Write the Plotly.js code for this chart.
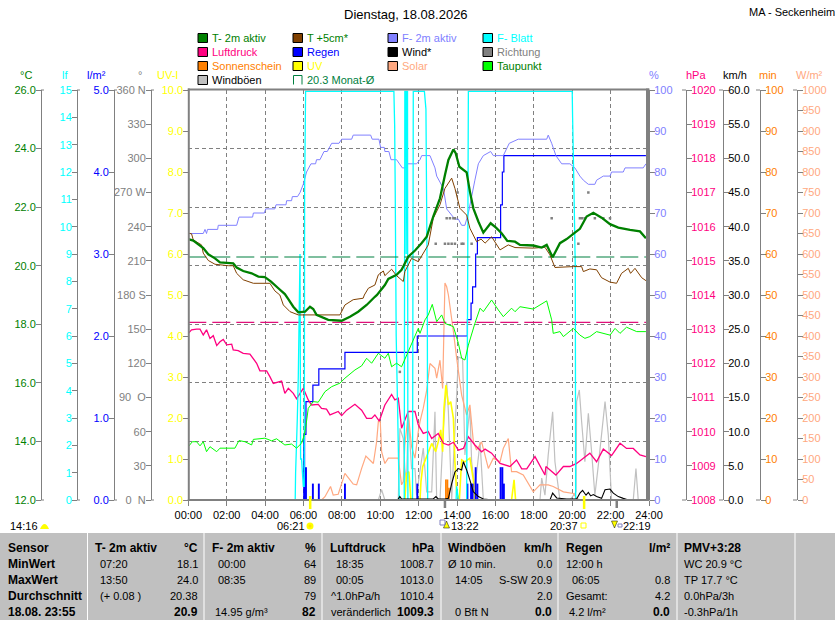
<!DOCTYPE html>
<html><head><meta charset="utf-8">
<script src="https://cdn.plot.ly/plotly-3.0.1.min.js"></script>
<style>html,body{margin:0;padding:0;background:#fff}#c{width:835px;height:620px}</style>
</head><body><div id="c"></div>
<script>
// ---------- Data (hours of day / values in each axis' own unit) ----------
var tT2m=[0,.26,.52,.78,1.04,1.39,1.65,2.34,2.52,2.86,3.30,3.65,3.99,4.31,4.69,5.03,5.21,5.47,5.73,6.08,6.34,6.51,6.68,7.29,7.99,8.42,8.85,9.29,9.72,9.83,10.24,10.42,10.85,11.11,11.46,11.81,12.15,12.42,12.76,13.11,13.37,13.55,13.81,13.93,14.12,14.50,14.67,14.85,15.11,15.37,15.75,16.03,16.32,16.62,17.02,17.28,17.97,18.41,18.67,18.98,19.36,19.71,20.14,20.40,20.75,21.10,21.53,21.97,22.40,23.01,23.53,23.84];
var vT2m=[20.91,20.86,20.73,20.60,20.39,20.25,20.11,20.08,19.94,19.82,19.74,19.63,19.61,19.46,19.23,19.03,18.86,18.60,18.41,18.43,18.60,18.52,18.32,18.15,18.12,18.26,18.43,18.66,18.94,19.0,19.34,19.55,19.69,19.86,20.31,20.52,20.77,20.99,21.68,22.30,23.10,23.61,23.97,23.84,23.38,23.19,22.53,21.96,21.51,21.13,21.45,21.30,21.11,20.85,20.82,20.71,20.69,20.62,20.71,20.29,20.77,20.91,21.13,21.26,21.68,21.81,21.64,21.42,21.30,21.22,21.17,20.94];
var tT5=[0,.17,.26,.69,.78,1.04,1.39,2.08,2.34,2.52,2.86,3.39,4.25,4.51,4.77,4.95,5.30,5.73,7.90,8.16,8.59,9.11,9.17,9.38,9.72,9.90,10.16,10.24,10.59,10.85,11.20,11.28,11.63,11.98,12.50,12.76,13.11,13.37,13.72,13.89,14.15,14.50,14.67,15.02,15.25,15.46,15.80,16.24,16.67,17.02,17.97,18.58,18.84,19.10,20.06,20.49,20.58,20.92,21.27,21.53,21.97,22.31,22.57,22.92,23.04,23.27,23.62,23.84];
var vT5=[21.11,21.09,20.88,20.71,20.43,20.18,20.05,20.0,20.0,19.74,19.52,19.40,19.40,19.14,19.0,18.66,18.43,18.32,18.32,18.66,18.84,18.89,19.0,19.23,19.34,19.69,19.82,19.66,19.88,19.66,19.46,19.80,20.25,20.14,20.71,21.62,22.08,22.64,22.99,22.64,21.96,21.73,21.28,20.82,20.91,20.77,20.99,20.54,20.71,20.62,20.60,20.63,20.37,19.94,19.97,19.97,19.80,19.89,19.86,19.59,19.44,19.40,19.74,19.91,19.74,19.91,19.59,19.49];
var tHum=[0,.78,.87,.95,1.0,1.53,1.56,2.52,2.64,3.35,3.39,3.96,4.03,4.51,4.57,5.09,5.12,5.38,5.42,5.69,5.82,5.99,6.16,6.39,6.63,6.68,6.86,7.07,7.24,7.47,7.85,7.99,8.51,8.59,9.5,9.58,9.93,10.02,10.21,10.24,10.45,10.56,10.85,11.15,11.32,11.42,11.89,12.07,12.16,12.59,12.85,12.94,13.29,13.46,13.63,13.89,14.07,14.24,14.41,14.59,14.76,14.93,15.11,15.37,15.75,15.89,16.41,16.72,17.19,18.67,18.75,18.93,19.15,19.45,19.88,20.14,20.40,20.58,20.84,21.18,21.27,21.62,21.97,22.05,22.66,22.75,23.70,23.84];
var vHum=[65,65,66,65,66,66,67,67,69,69,70,70,71,71,72,72,73,73,74,74,75,77,80,82,82,83,83,85,85,87,87,88,88,89,89,88,88,86,86,85,85,83,83,81,81,82,82,83,84,84,81,79,76,71,70,68.5,68.5,67,67,70,74,78,82,84,85,84,84,87,88,88,89,87,84,82,82,81,79,78,77,77,78,79,79,80,80,81,81,82];
var tDew=[0,.21,.43,.61,.78,.95,1.13,1.48,1.65,2.43,2.64,2.95,3.30,3.39,3.99,4.34,4.60,5.03,5.38,5.64,5.90,6.04,6.11,6.25,6.51,6.77,7.12,7.47,7.90,8.16,8.68,9.03,9.29,9.55,9.90,10.24,10.42,10.59,10.85,11.11,11.46,11.98,12.07,12.33,12.50,12.71,12.94,13.20,13.37,13.81,14.07,14.24,14.41,14.59,14.93,15.2,15.37,15.80,16.15,16.41,16.84,17.02,17.28,17.97,18.67,18.93,19.01,19.36,19.54,20.06,20.40,20.66,20.92,21.27,21.97,22.23,22.49,22.83,23.36,23.84];
var vDew=[13.82,13.99,13.99,13.85,13.99,13.65,13.82,13.65,13.77,13.77,14.03,13.99,13.88,14.07,14.11,14.02,14.09,13.88,13.91,13.77,13.94,14.22,14.45,15.13,15.36,15.34,15.70,15.87,15.99,16.16,16.44,16.58,16.84,16.67,17.01,16.84,17.01,16.55,16.67,16.55,17.07,17.86,17.69,18.15,18.32,18.68,18.09,18.32,18.03,17.92,17.35,16.84,16.78,17.29,18.03,18.55,18.43,18.83,18.49,18.26,18.55,18.43,18.60,18.52,18.80,18.15,17.69,17.75,17.58,17.86,17.63,17.52,17.58,17.75,17.63,17.86,17.69,17.90,17.75,17.75];
var tPres=[0,.17,.43,.61,.78,.95,1.13,1.30,1.48,1.65,1.82,2.0,2.26,2.34,2.60,2.86,3.21,3.56,3.73,4.08,4.25,4.43,4.86,5.03,5.21,5.47,5.64,5.99,6.25,6.42,6.77,6.94,7.20,7.38,7.81,7.99,8.25,8.68,9.03,9.29,9.55,9.72,9.95,10.24,10.59,10.76,10.94,11.11,11.46,11.81,11.98,12.24,12.50,12.68,13.02,13.29,13.55,13.81,14.07,14.33,14.59,14.93,15.28,15.46,15.80,16.24,16.76,17.10,17.37,17.63,18.06,18.58,18.63,19.15,19.54,19.88,20.23,20.58,20.92,21.27,21.62,22.05,22.49,22.83,23.18,23.53,23.84];
var vPres=[1012.88,1012.98,1013.0,1013.0,1012.83,1012.98,1012.73,1012.81,1012.52,1012.63,1012.70,1012.54,1012.56,1012.39,1012.37,1012.29,1012.27,1012.0,1011.78,1011.78,1011.61,1011.41,1011.48,1011.12,1011.27,1011.12,1010.96,1011.27,1010.93,1010.78,1010.80,1010.68,1010.66,1010.49,1010.59,1010.47,1010.63,1010.80,1010.63,1010.39,1010.39,1010.49,1010.31,1010.78,1011.09,1010.93,1010.98,1010.10,1010.59,1010.59,1010.2,1009.95,1010.0,1009.80,1009.95,1009.66,1009.61,1009.69,1009.46,1009.51,1009.85,1009.61,1009.41,1009.49,1009.37,1009.07,1008.98,1009.17,1008.91,1008.91,1009.27,1008.73,1008.98,1008.73,1008.98,1008.98,1009.07,1009.22,1009.37,1009.12,1009.49,1009.30,1009.66,1009.51,1009.51,1009.32,1009.27];
var tRainBar=[6.04,6.13,6.49,6.80,8.16,11.93,14.54,14.73,14.81,14.97,15.06,16.27,16.36,16.44];
var vRainBar=[0.8,0.4,0.2,0.2,0.2,0.2,0.2,0.2,0.2,0.4,0.2,0.4,0.4,0.2];
var tRainSum=[0,6.04,6.13,6.49,6.80,8.16,11.93,14.54,14.73,14.81,14.97,15.06,16.27,16.36,16.44,23.84];
var vRainSum=[0,0.8,1.2,1.4,1.6,1.8,2.0,2.2,2.4,2.6,3.0,3.2,3.6,4.0,4.2,4.2];
var tLeaf=[0,5.57,5.59,5.68,5.73,5.82,5.85,5.90,5.99,6.04,6.06,6.11,10.71,10.75,10.78,10.83,10.90,10.99,11.25,11.28,11.34,11.35,11.39,11.42,11.44,11.68,11.72,12.30,12.38,12.45,12.47,13.95,13.98,14.07,14.50,14.55,14.59,19.93,20.0,20.02,20.09,20.16,20.18,23.84];
var vLeaf=[0,0,1,3,4.5,9,1.5,1.5,0.5,0.5,11.3,14.95,14.95,13.7,11.3,6,3.5,0,0,14.95,14.95,9,14.95,14.95,0,0,14.95,14.95,14.3,7.5,0,0,0.5,0,0,7.5,14.95,14.95,14.95,14,11.4,8.5,0,0];
var tSolar=[0,6.94,7.12,7.41,7.55,7.81,8.16,8.59,8.77,9.03,9.25,9.64,9.81,9.90,10.0,10.07,10.24,10.42,10.68,10.94,11.11,11.20,11.28,11.46,11.63,11.81,11.98,12.07,12.24,12.42,12.59,12.85,12.94,13.11,13.25,13.37,13.46,13.55,13.81,13.98,14.24,14.50,14.67,14.85,15.02,15.28,15.63,15.89,16.24,16.41,16.67,16.84,17.10,17.45,17.97,18.32,18.75,19.01,19.54,20.06,20.23,20.4];
var vSolar=[0,0,8,33,12,14,65,39,37,77,107,89,142,191,191,118,89,102,102,102,37,45,134,211,130,102,167,191,224,268,333,321,297,341,272,529,520,500,411,346,256,207,232,142,122,142,77,102,93,126,150,69,69,61,20,37,37,33,20,16,4,0];
var tGust=[0,9.9,10.07,10.24,10.94,11.02,11.2,11.28,11.37,11.46,11.63,11.81,11.89,12.24,12.42,12.68,12.85,12.94,13.11,13.29,13.46,13.55,13.72,13.81,13.98,14.07,14.29,14.41,14.67,14.76,14.93,15.2,15.37,18.32,18.41,18.58,18.75,18.98,19.1,19.36,19.88,20.2,20.23,20.37,20.49,20.66,20.84,21.01,21.18,21.36,21.71,21.88,22.05,23.18,23.32,23.44,23.84];
var vGust=[0,0,1.5,0,0,10.5,9,4.6,2.7,12.4,4.6,4.6,0.7,7.6,1.2,1.2,12.9,0,0,10.5,17.3,12.9,0,5.6,15.4,20.9,20.7,6.6,13.4,5.6,1.7,8.5,0,0,3.2,0.7,6.6,12.9,5.6,0,0,1.2,14.4,16.1,11.5,5.6,12.7,7.1,0.7,5.1,14.4,9.5,0,0,4.6,0,0];
var tWind=[0,10.9,11.02,11.11,11.55,12.76,12.9,13.02,13.37,13.55,13.72,13.89,14.07,14.24,14.33,14.50,14.67,14.85,15.11,15.37,15.89,18.84,18.98,19.19,19.71,20.23,20.40,20.54,20.72,20.84,20.96,21.10,21.27,21.53,21.71,21.97,22.14,22.40,22.66,22.92,23.84];
var vWind=[0,0,0.5,0.15,0.15,0.15,0.5,0.15,0.15,0.24,2.4,4.1,4.6,4.4,5.6,4.4,2.9,1.2,0.5,0.15,0,0,1,0.3,0.15,0.15,1,1.4,0.7,1.1,0.6,0.8,0.5,0.24,1.5,1.6,1,0.5,0.24,0,0];
var tUV=[0,11.28,11.37,11.49,11.60,12.07,12.12,12.21,12.45,12.68,12.89,13.02,13.15,13.25,13.32,13.42,13.55,13.67,13.81,13.89,13.98,14.12,14.24,14.41,14.67,14.85,14.93,16.84,16.97,17.05,23.84];
var vUV=[0,0,0.65,0.69,0,0,0.45,0.81,1.1,1.38,1.18,1.42,1.71,1.18,2.24,2.8,2.32,2.4,1.99,0.93,0.16,0,0.98,0.93,1.02,0.49,0,0,0.49,0,0];
var tSun=[13.42,13.5,13.58], vSun=[5,5,3];
var tSunBase=[0,24], vSunBase=[0,0];
var tDir=[11.02,12.89,13.37,13.55,13.72,13.89,14.24,14.33,14.76,20.32,13.46,13.63,13.81,13.89,18.93,20.40,20.52,20.66,21.18,21.62,21.97,14.03,20.84];
var vDir=[112.5,225,225,225,225,225,225,225,225,225,247.5,247.5,247.5,247.5,247.5,247.5,247.5,247.5,247.5,247.5,247.5,270,270];
var tSpan=[0,23.84];
var vMonthAvg=[20.3,20.3], vPresRef=[1013.2,1013.2];
var tRiseSet=[6.35,20.62], tMoon=[13.37,22.32];

var xTickVals=[0,2,4,6,8,10,12,14,16,18,20,22,24];
var xTickText=["00:00","02:00","04:00","06:00","08:00","10:00","12:00","14:00","16:00","18:00","20:00","22:00","24:00"];
var dirTickVals=[0,30,60,90,120,150,180,210,240,270,300,330,360];
var dirTickText=["0\u00a0\u00a0N","30","60","90\u00a0\u00a0O","120","150","180 S","210","240","270 W","300","330","360 N"];

var legendEntries=[
 ["T- 2m aktiv","#008000","#008000",0,0],["T +5cm*","#804000","#008000",1,0],["F- 2m aktiv","#8080ff","#8080ff",2,0],["F- Blatt","#00ffff","#00ffff",3,0],
 ["Luftdruck","#ff0080","#ff0080",0,1],["Regen","#0000ff","#0000ff",1,1],["Wind*","#000000","#000000",2,1],["Richtung","#808080","#808080",3,1],
 ["Sonnenschein","#ff8000","#ff8000",0,2],["UV","#ffff00","#ffff00",1,2],["Solar","#ffa880","#ffa880",2,2],["Taupunkt","#00ff00","#008000",3,2],
 ["Windböen","#c0c0c0","#000000",0,3]];
var monthLabel="20.3 Monat-Ø";

var unitLabels=[["°C",20,"#008000"],["lf",62,"#00ffff"],["l/m²",87,"#0000ff"],["°",138,"#808080"],["UV-I",157,"#ffff00"],
 ["%",649,"#8080ff"],["hPa",686,"#ff0080"],["km/h",723,"#000000"],["min",759,"#ff8000"],["W/m²",796,"#ffa880"]];

var panelSeps=[87.5,204,322,441,558,677,795];
var panelRows=[548,564,580,596,612];
// [text, x, row, anchor, bold]
var panelText=[
 ["Sensor",8,0,"l",1],["MinWert",8,1,"l",1],["MaxWert",8,2,"l",1],["Durchschnitt",8,3,"l",1],["18.08. 23:55",8,4,"l",1],
 ["T- 2m aktiv",95,0,"l",1],["°C",198,0,"r",1],["07:20",100,1,"l",0],["18.1",198,1,"r",0],["13:50",100,2,"l",0],["24.0",198,2,"r",0],["(+ 0.08 )",100,3,"l",0],["20.38",198,3,"r",0],["20.9",198,4,"r",1],
 ["F- 2m aktiv",212,0,"l",1],["%",316,0,"r",1],["00:00",218,1,"l",0],["64",316,1,"r",0],["08:35",218,2,"l",0],["89",316,2,"r",0],["79",316,3,"r",0],["14.95 g/m³",215,4,"l",0],["82",316,4,"r",1],
 ["Luftdruck",330,0,"l",1],["hPa",434,0,"r",1],["18:35",336,1,"l",0],["1008.7",434,1,"r",0],["00:05",336,2,"l",0],["1013.0",434,2,"r",0],["^1.0hPa/h",331,3,"l",0],["1010.4",434,3,"r",0],["veränderlich",331,4,"l",0],["1009.3",434,4,"r",1],
 ["Windböen",448,0,"l",1],["km/h",552,0,"r",1],["Ø 10 min.",448,1,"l",0],["0.0",552,1,"r",0],["14:05",455,2,"l",0],["S-SW 20.9",552,2,"r",0],["2.0",552,3,"r",0],["0 Bft N",455,4,"l",0],["0.0",552,4,"r",1],
 ["Regen",566,0,"l",1],["l/m²",670,0,"r",1],["12:00 h",566,1,"l",0],["06:05",572,2,"l",0],["0.8",670,2,"r",0],["Gesamt:",566,3,"l",0],["4.2",670,3,"r",0],["4.2 l/m²",569,4,"l",0],["0.0",670,4,"r",1],
 ["PMV+3:28",684,0,"l",1],["WC 20.9 °C",684,1,"l",0],["TP 17.7 °C",684,2,"l",0],["0.0hPa/3h",684,3,"l",0],["-0.3hPa/1h",684,4,"l",0]];
var astroText=[["14:16",10],["06:21",277],["13:22",451],["20:37",550],["22:19",623]];

// ---------- Layout helpers ----------
var W=835,H=620,FONT='"Liberation Sans",Arial,sans-serif';
var PL=188.3,PR=649,PT=90,PB=500;
function px(x){return x/W} function py(y){return 1-y/H}
var ann=[],shp=[];
function txt(s,x,y,col,size,anchor,bold){ann.push({text:bold?"<b>"+s+"</b>":s,xref:"paper",yref:"paper",x:px(x),y:py(y),
  xanchor:anchor||"left",yanchor:"middle",showarrow:false,align:anchor||"left",font:{family:FONT,size:size||11,color:col||"#000"},borderpad:0,borderwidth:0});}
function rect(x0,y0,x1,y1,fill,line,lw,layer){shp.push({type:"rect",xref:"paper",yref:"paper",x0:px(x0),x1:px(x1),y0:py(y0),y1:py(y1),fillcolor:fill,line:{color:line||fill,width:lw==null?0:lw},layer:layer||"above"});}
function seg(x0,y0,x1,y1,col,w,dash){shp.push({type:"line",xref:"paper",yref:"paper",x0:px(x0),x1:px(x1),y0:py(y0),y1:py(y1),line:{color:col,width:w,dash:dash||"solid"},layer:"above"});}

// ---------- Traces, bottom to top ----------
var common={type:"scatter",mode:"lines",hoverinfo:"skip",showlegend:false,xaxis:"x"};
function ln(name,x,y,ax,col,w,extra){return Object.assign({},common,{name:name,x:x,y:y,yaxis:ax,line:{color:col,width:w,simplify:false}},extra||{});}
var data=[
 ln("Windböen",tGust,vGust,"y","#c0c0c0",1.2),
 ln("Solar",tSolar,vSolar,"y2","#ffa880",1.2),
 ln("UV",tUV,vUV,"y3","#ffff00",1.6),
 {type:"bar",name:"Sonnenschein",x:tSun,y:vSun,yaxis:"y4",xaxis:"x",width:0.09,marker:{color:"#ff8000",line:{width:0}},hoverinfo:"skip",showlegend:false},
 {type:"bar",name:"Regen",x:tRainBar,y:vRainBar,yaxis:"y5",xaxis:"x",width:0.1,marker:{color:"#0000ff",line:{width:0}},hoverinfo:"skip",showlegend:false},
 ln("Regen Summe",tRainSum,vRainSum,"y5","#0000ff",1.2,{line:{color:"#0000ff",width:1.2,shape:"hv"}}),
 ln("Luftdruck",tPres,vPres,"y6","#ff0080",1.3),
 ln("Luftdruck Ref",tSpan,vPresRef,"y6","#ff0080",1.1,{line:{color:"#e0107a",width:1.1,dash:"18px,6px"}}),
 ln("F- 2m aktiv",tHum,vHum,"y7","#8080ff",1),
 ln("F- Blatt",tLeaf,vLeaf,"y8","#00ffff",1.3),
 ln("Wind",tWind,vWind,"y9","#000000",1.1),
 {type:"scatter",mode:"markers",name:"Richtung",x:tDir,y:vDir,yaxis:"y10",xaxis:"x",marker:{color:"#808080",size:2.5,symbol:"square"},hoverinfo:"skip",showlegend:false},
 ln("Monat",tSpan,vMonthAvg,"y11","#008040",1.1,{line:{color:"#008040",width:1.1,dash:"18px,6px"}}),
 ln("Taupunkt",tDew,vDew,"y11","#00ff00",1),
 ln("T +5cm",tT5,vT5,"y11","#804000",1),
 ln("T- 2m aktiv",tT2m,vT2m,"y11","#008000",2.3),
 ln("Sonnenschein Basis",tSunBase,vSunBase,"y4","#ff8000",1,{cliponaxis:false,line:{color:"#ff8000",width:1,dash:"3px,2px"}})
];

// ---------- Axes ----------
var yDom=[py(PB),py(PT)];
function yax(xPos,side,col,range,dtick,fmt,extra){
 return Object.assign({domain:yDom,range:range,anchor:"free",position:px(xPos),side:side,dtick:dtick,tick0:range[0],tickformat:fmt,
  showgrid:false,zeroline:false,showline:true,linecolor:"#808080",linewidth:1,ticks:"outside",ticklen:5,tickwidth:1,tickcolor:"#808080",
  tickfont:{family:FONT,size:11,color:col},ticklabelstandoff:side==="right"?-3:-2,overlaying:"y"},extra||{});
}
var layout={width:W,height:H,margin:{l:0,r:0,t:0,b:0,pad:0},paper_bgcolor:"#fff",plot_bgcolor:"#fff",showlegend:false,hovermode:false,barmode:"overlay",
 xaxis:{domain:[px(PL),px(PR)],range:[0,24],anchor:"y",tickvals:xTickVals,ticktext:xTickText,showgrid:true,griddash:"4px,3px",gridcolor:"#808080",gridwidth:1,
   zeroline:false,showline:false,ticks:"outside",ticklen:5,tickcolor:"#808080",tickwidth:1,tickfont:{family:FONT,size:11,color:"#000"},tickangle:0},
 yaxis:yax(723,"right","#000000",[0,60],5,".1f",{overlaying:false}),
 yaxis2:yax(797,"right","#ffa880",[0,1000],50,"d"),
 yaxis3:yax(PL,"left","#ffff00",[0,10],1,".1f",{linewidth:0}),
 yaxis4:yax(760,"right","#ff8000",[0,100],10,"d"),
 yaxis5:yax(114,"left","#0000ff",[0,5],1,".1f"),
 yaxis6:yax(686,"right","#ff0080",[1008,1020],1,"d"),
 yaxis7:yax(PR,"right","#8080ff",[0,100],10,"d",{linewidth:0}),
 yaxis8:yax(77,"left","#00ffff",[0,15],1,"d"),
 yaxis9:{domain:yDom,range:[0,60],anchor:"free",position:px(723),overlaying:"y",visible:false},
 yaxis10:yax(151,"left","#808080",[0,360],30,"",{tickmode:"array",tickvals:dirTickVals,ticktext:dirTickText}),
 yaxis11:yax(41,"left","#008000",[12,26],2,".1f",{showgrid:true,griddash:"4px,3px",gridcolor:"#808080",gridwidth:1})
};
delete layout.yaxis.overlaying;

// ---------- Frame and decorations ----------
rect(PL-0.5,PT-1.5,PL+1.5,PB+1,"#808080");
rect(PL-0.5,PT-1.5,PR,PT+0.5,"#808080");
rect(PL-0.5,PB-1,PR,PB+1,"#808080");
rect(PR-3,PT-1.5,PR+0.5,PB+1,"#808080");
[41,77,114,151].forEach(function(x){seg(x,PT,x+3,PT,"#808080",1);seg(x,PB,x+3,PB,"#808080",1);});
[686,723,760,797].forEach(function(x){seg(x-4,PT,x,PT,"#808080",1);seg(x-4,PB,x,PB,"#808080",1);});
// Sunrise / sunset and moon markers on the time scale
tRiseSet.forEach(function(t){shp.push({type:"line",xref:"x",yref:"paper",x0:t,x1:t,y0:py(509),y1:py(496),line:{color:"#ffff00",width:2.5},layer:"above"});});
tMoon.forEach(function(t){shp.push({type:"line",xref:"x",yref:"paper",x0:t,x1:t,y0:py(508),y1:py(500),line:{color:"#808080",width:2.5},layer:"above"});});

// ---------- Titles ----------
txt("Dienstag, 18.08.2026",406,15,"#000",13,"center");
txt("MA - Seckenheim",749,12,"#000",11,"left");
unitLabels.forEach(function(u){txt(u[0],u[1],75,u[2],11,"left");});

// ---------- Legend ----------
var colX=[198,293,388,483],rowY=[38,52,66,80];
legendEntries.forEach(function(e){var x=colX[e[3]],y=rowY[e[4]];
 rect(x,y-4.5,x+9.5,y+4.5,e[1],"#000",1);
 txt(e[0],x+14,y,e[2],11,"left");});
shp.push({type:"path",xref:"paper",yref:"paper",path:"M"+px(293.5)+","+py(84.5)+" L"+px(293.5)+","+py(75.5)+" L"+px(302)+","+py(75.5)+" L"+px(302)+","+py(84.5),line:{color:"#008040",width:1},layer:"above"});
txt(monthLabel,307,80,"#008040",11,"left");

// ---------- Sun / moon annotations ----------
astroText.forEach(function(a){txt(a[0],a[1],526,"#000",11,"left");});
function disc(cx,cy,r,col){shp.push({type:"circle",xref:"paper",yref:"paper",x0:px(cx-r),x1:px(cx+r),y0:py(cy+r),y1:py(cy-r),fillcolor:col,line:{width:0},layer:"above"});}
shp.push({type:"path",xref:"paper",yref:"paper",path:"M"+px(40)+","+py(529)+" Q"+px(44.5)+","+py(519)+" "+px(49)+","+py(529)+" Z",fillcolor:"#ffff00",line:{width:0},layer:"above"});
disc(310,526,3.5,"#ffff00");disc(310,526,1.5,"#ffe000");
rect(581,523,586,528,"#fff","#ffff00",1);
function tri(x,yBase,yTip,col){shp.push({type:"path",xref:"paper",yref:"paper",path:"M"+px(x-3)+","+py(yBase)+" L"+px(x)+","+py(yTip)+" L"+px(x+3)+","+py(yBase)+" Z",fillcolor:col,line:{color:"#000",width:0.5},layer:"above"});}
tri(446.5,528,521,"#ffff00");tri(614.5,521,528,"#ffff00");
rect(440,520,445,525,"rgba(0,0,0,0)","#8080c0",1);
rect(618,524,622,527,"rgba(0,0,0,0)","#8080c0",1);

// ---------- Bottom panel ----------
rect(0,533,W,H,"#c0c0c0");
panelSeps.forEach(function(x){rect(x-0.5,533,x+0.5,H,"#ffffff");});
panelText.forEach(function(p){txt(p[0],p[1],panelRows[p[2]],"#000",p[4]?12:11,p[3]==="r"?"right":"left",p[4]);});

layout.annotations=ann;layout.shapes=shp;
Plotly.newPlot("c",data,layout,{displayModeBar:false,staticPlot:true,responsive:false});
</script></body></html>
